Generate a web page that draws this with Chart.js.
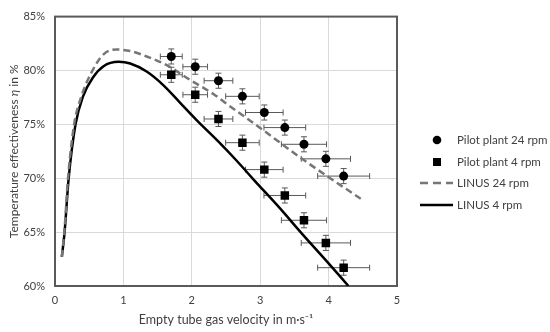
<!DOCTYPE html>
<html>
<head>
<meta charset="utf-8">
<script src="https://cdn.jsdelivr.net/npm/chart.js@4.4.1/dist/chart.umd.min.js"></script>
<style>
  html, body { margin: 0; padding: 0; background: #ffffff; }
  #wrap { position: relative; width: 550px; height: 332px; }
</style>
</head>
<body>
<div id="wrap"><canvas id="c" width="550" height="332"></canvas></div>
<script>
// ---------- data ----------
const xTicks = [0, 1, 2, 3, 4, 5];
const yTicks = [60, 65, 70, 75, 80, 85];

// Pilot plant 24 rpm (circles)
const pilot24Vel = [1.70, 2.05, 2.39, 2.74, 3.06, 3.36, 3.64, 3.96, 4.22];
const pilot24Eff = [81.3, 80.35, 79.05, 77.6, 76.1, 74.7, 73.15, 71.8, 70.2];
const pilot24VelErr = [0.16, 0.18, 0.21, 0.245, 0.275, 0.305, 0.33, 0.36, 0.38];
const pilot24EffErr = [0.7, 0.7, 0.7, 0.7, 0.7, 0.7, 0.7, 0.7, 0.7];

// Pilot plant 4 rpm (squares)
const pilot4Vel = [1.70, 2.05, 2.39, 2.74, 3.06, 3.36, 3.64, 3.96, 4.22];
const pilot4Eff = [79.6, 77.75, 75.5, 73.3, 70.8, 68.4, 66.1, 64.0, 61.7];
const pilot4VelErr = [0.16, 0.18, 0.21, 0.245, 0.275, 0.305, 0.33, 0.36, 0.38];
const pilot4EffErr = [0.7, 0.7, 0.7, 0.7, 0.7, 0.7, 0.7, 0.7, 0.7];

// LINUS 24 rpm (dashed model curve)
const linus24Vel = [0.10, 0.14, 0.19, 0.28, 0.37, 0.54, 0.71, 0.90, 1.10, 1.34, 1.66, 1.98, 2.32, 2.51, 2.95, 3.29, 3.59, 4.00, 4.47];
const linus24Eff = [62.7, 65.3, 70.0, 75.0, 77.3, 79.9, 81.5, 81.95, 81.8, 81.3, 80.4, 79.1, 77.8, 76.9, 74.9, 73.3, 71.9, 70.1, 68.1];

// LINUS 4 rpm (solid model curve)
const linus4Vel = [0.10, 0.14, 0.20, 0.30, 0.41, 0.56, 0.71, 0.93, 1.10, 1.34, 1.59, 1.83, 2.07, 2.39, 2.66, 2.90, 3.29, 3.59, 4.00, 4.29];
const linus4Eff = [62.7, 65.0, 70.0, 75.0, 77.6, 79.4, 80.4, 80.8, 80.65, 79.9, 78.6, 77.0, 75.4, 73.4, 71.6, 69.9, 67.2, 65.0, 62.1, 60.0];

const seriesNames = ['Pilot plant 24 rpm', 'Pilot plant 4 rpm', 'LINUS 24 rpm', 'LINUS 4 rpm'];
const xTitle = 'Empty tube gas velocity in m\u00B7s\u207B\u00B9';
const yTitleParts = ['Temperature effectiveness ', '\u03B7', ' in %'];

// ---------- helpers ----------
const pts = (xs, ys) => xs.map((x, i) => ({ x: x, y: ys[i] }));
const FONT = 'Lato, "Open Sans", sans-serif';
const TXT = '#404040';

const errorBarPlugin = {
  id: 'errorBars',
  beforeDatasetsDraw(chart) {
    const ctx = chart.ctx;
    const xs = chart.scales.x, ys = chart.scales.y;
    ctx.save();
    ctx.strokeStyle = '#595959';
    ctx.lineWidth = 1;
    chart.data.datasets.forEach(ds => {
      if (!ds.errX) return;
      ds.data.forEach((p, i) => {
        const cx = xs.getPixelForValue(p.x), cy = ys.getPixelForValue(p.y);
        const x0 = xs.getPixelForValue(p.x - ds.errX[i]);
        const x1 = xs.getPixelForValue(p.x + ds.errX[i]);
        const y0 = ys.getPixelForValue(p.y - ds.errY[i]);
        const y1 = ys.getPixelForValue(p.y + ds.errY[i]);
        const c = 3;
        ctx.beginPath();
        ctx.moveTo(x0, cy); ctx.lineTo(x1, cy);
        ctx.moveTo(x0, cy - c); ctx.lineTo(x0, cy + c);
        ctx.moveTo(x1, cy - c); ctx.lineTo(x1, cy + c);
        ctx.moveTo(cx, y0); ctx.lineTo(cx, y1);
        ctx.moveTo(cx - c, y0); ctx.lineTo(cx + c, y0);
        ctx.moveTo(cx - c, y1); ctx.lineTo(cx + c, y1);
        ctx.stroke();
      });
    });
    // plot frame
    const a = chart.chartArea;
    ctx.strokeStyle = '#5a5a5a';
    ctx.lineWidth = 2;
    ctx.strokeRect(a.left, a.top, a.right - a.left, a.bottom - a.top);
    ctx.restore();
  }
};

const decorPlugin = {
  id: 'decor',
  afterDraw(chart) {
    const ctx = chart.ctx;
    const a = chart.chartArea;
    ctx.save();
    ctx.fillStyle = TXT;
    // x title
    ctx.font = '12.5px ' + FONT;
    ctx.textAlign = 'center';
    ctx.textBaseline = 'middle';
    ctx.fillText(xTitle, (a.left + a.right) / 2, 320);
    // y title with italic eta
    ctx.save();
    ctx.translate(14, (a.top + a.bottom) / 2);
    ctx.rotate(-Math.PI / 2);
    const fonts = ['12px ' + FONT, 'italic 12px ' + FONT, '12px ' + FONT];
    let widths = yTitleParts.map((t, i) => { ctx.font = fonts[i]; return ctx.measureText(t).width; });
    let total = widths.reduce((s, w) => s + w, 0);
    let x = -total / 2;
    ctx.textAlign = 'left';
    yTitleParts.forEach((t, i) => { ctx.font = fonts[i]; ctx.fillText(t, x, 0); x += widths[i]; });
    ctx.restore();

    // legend
    const mx = a.right + 40, tx = a.right + 60;
    const rows = [140, 162, 183, 205];
    ctx.font = '11.5px ' + FONT;
    ctx.textAlign = 'left';
    ctx.textBaseline = 'middle';
    chart.data.datasets.forEach((ds, i) => {
      const y = rows[i];
      ctx.fillStyle = TXT;
      ctx.fillText(ds.label, tx, y + 0.5);
      ctx.save();
      if (ds.pointStyle === 'circle') {
        ctx.fillStyle = '#000';
        ctx.beginPath(); ctx.arc(mx, y, 4.3, 0, Math.PI * 2); ctx.fill();
      } else if (ds.pointStyle === 'rect') {
        ctx.fillStyle = '#000';
        ctx.fillRect(mx - 4, y - 4, 8, 8);
      } else {
        ctx.strokeStyle = ds.borderColor;
        ctx.lineWidth = ds.borderWidth;
        ctx.setLineDash(ds.borderDash ? [8, 5] : []);
        ctx.beginPath(); ctx.moveTo(a.right + 23, y); ctx.lineTo(a.right + 56, y); ctx.stroke();
      }
      ctx.restore();
    });
    ctx.restore();
  }
};

new Chart(document.getElementById('c'), {
  type: 'scatter',
  data: {
    datasets: [
      {
        label: seriesNames[0], data: pts(pilot24Vel, pilot24Eff),
        errX: pilot24VelErr, errY: pilot24EffErr,
        pointStyle: 'circle', pointRadius: 4.5, backgroundColor: '#000', borderColor: '#000', borderWidth: 0,
        showLine: false, order: 1
      },
      {
        label: seriesNames[1], data: pts(pilot4Vel, pilot4Eff),
        errX: pilot4VelErr, errY: pilot4EffErr,
        pointStyle: 'rect', pointRadius: 6, backgroundColor: '#000', borderColor: '#000', borderWidth: 0,
        showLine: false, order: 1
      },
      {
        label: seriesNames[2], data: pts(linus24Vel, linus24Eff),
        showLine: true, pointRadius: 0, borderColor: '#767676', borderWidth: 2.5, borderDash: [7, 4],
        cubicInterpolationMode: 'monotone', fill: false, order: 2
      },
      {
        label: seriesNames[3], data: pts(linus4Vel, linus4Eff),
        showLine: true, pointRadius: 0, borderColor: '#000000', borderWidth: 2.5,
        cubicInterpolationMode: 'monotone', fill: false, order: 2
      }
    ]
  },
  options: {
    responsive: false,
    animation: false,
    events: [],
    layout: { padding: { top: 16, right: 153, left: 0, bottom: 0 } },
    plugins: { legend: { display: false }, tooltip: { enabled: false } },
    scales: {
      x: {
        type: 'linear', min: xTicks[0], max: xTicks[xTicks.length - 1],
        afterBuildTicks: s => { s.ticks = xTicks.map(v => ({ value: v })); },
        afterFit: s => { s.height = 46; },
        grid: { color: '#d9d9d9', lineWidth: 1, drawTicks: false },
        border: { display: false },
        ticks: { padding: 8, color: TXT, font: { family: FONT, size: 11 }, maxRotation: 0 }
      },
      y: {
        type: 'linear', min: yTicks[0], max: yTicks[yTicks.length - 1],
        afterBuildTicks: s => { s.ticks = yTicks.map(v => ({ value: v })); },
        afterFit: s => { s.width = 55; },
        grid: { color: '#d9d9d9', lineWidth: 1, drawTicks: false },
        border: { display: false },
        ticks: { padding: 10, color: TXT, font: { family: FONT, size: 11 }, callback: v => v + '%' }
      }
    }
  },
  plugins: [errorBarPlugin, decorPlugin]
});
</script>
</body>
</html>
